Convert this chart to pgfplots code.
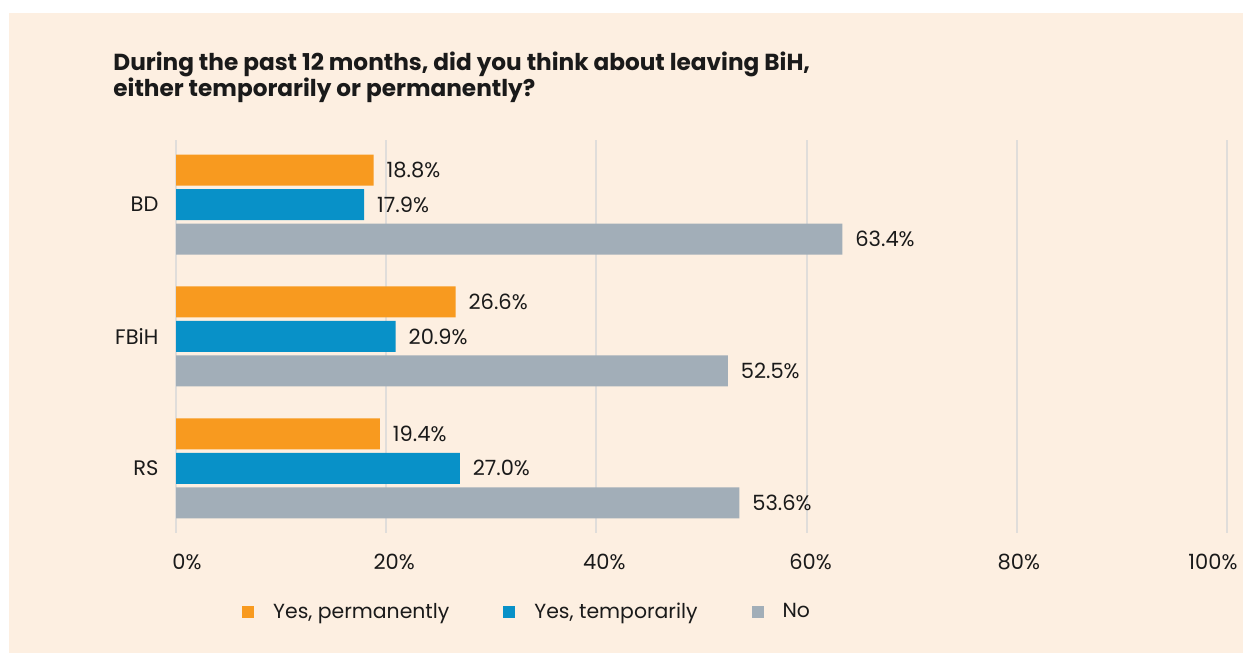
\documentclass[border=0pt]{standalone}
\usepackage{fontspec}
\setmainfont{Poppins}
\usepackage{pgfplots}
\pgfplotsset{compat=1.18}
\definecolor{bg}{HTML}{FDEFE1}
\definecolor{cOr}{HTML}{F89A1F}
\definecolor{cBl}{HTML}{0891C8}
\definecolor{cGr}{HTML}{A2AEB8}
\definecolor{cGrid}{HTML}{E0DDDA}
\definecolor{txt}{HTML}{1A1A1A}
\begin{document}
\begin{tikzpicture}
\useasboundingbox (0pt,0pt) rectangle (621.5pt,326.5pt);
\fill[white] (0pt,0pt) rectangle (621.5pt,326.5pt);
\fill[bg] (4.5pt,0pt) rectangle (621.5pt,320pt);
\node[anchor=base west, font=\bfseries\fontsize{11.6}{14}\selectfont, inner sep=0pt, text=txt] at (56.5pt,291pt) {During the past 12 months, did you think about leaving BiH,};
\node[anchor=base west, font=\bfseries\fontsize{11.6}{14}\selectfont, inner sep=0pt, text=txt] at (56.5pt,278pt) {either temporarily or permanently?};
\begin{axis}[
  at={(88pt,60pt)}, anchor=south west,
  scale only axis, width=525.5pt, height=196.5pt,
  xmin=0, xmax=100, ymin=-0.49, ymax=2.49,
  xbar, bar width=15.5pt,
  ytick={0,1,2}, yticklabels={RS,FBiH,BD},
  xtick={0,20,40,60,80,100},
  xticklabels={{\hbox to 11pt{}0\%},{\hbox to 8pt{}20\%},{\hbox to 8pt{}40\%},{\hbox to 4pt{}60\%},{\hbox to 2pt{}80\%},{100\%\hbox to 14pt{}}},
  /pgf/number format/assume math mode=true,
  xticklabel style={yshift=-7pt},
  yticklabel style={xshift=-1pt},
  axis line style={draw=none}, major tick style={draw=none},
  xmajorgrids, major grid style={cGrid, line width=1pt},
  tick label style={font=\fontsize{10.5}{12}\selectfont, text=txt},
  point meta=x,
  nodes near coords={\pgfmathprintnumber[fixed,fixed zerofill,precision=1]{\pgfplotspointmeta}\%},
  nodes near coords style={font=\fontsize{10.5}{12}\selectfont, text=txt, anchor=west, xshift=3pt},
  legend style={at={(0.335,-0.201)}, anchor=center, draw=none, fill=none,
    font=\fontsize{10.2}{12}\selectfont, text=txt, legend columns=3,
    /tikz/every odd column/.append style={column sep=7.5pt},
    /tikz/every even column/.append style={column sep=25pt}},
  legend image code/.code={\fill[#1,draw=none] (0pt,-3pt) rectangle (6pt,3pt);},
]
\addplot[fill=cOr, draw=none, bar shift=17.25pt] coordinates {(18.8,2) (26.6,1) (19.4,0)};
\addplot[fill=cBl, draw=none, bar shift=0pt] coordinates {(17.9,2) (20.9,1) (27.0,0)};
\addplot[fill=cGr, draw=none, bar shift=-17.25pt] coordinates {(63.4,2) (52.5,1) (53.6,0)};
\legend{{Yes, permanently},{Yes, temporarily},{No}}
\end{axis}
\end{tikzpicture}
\end{document}
